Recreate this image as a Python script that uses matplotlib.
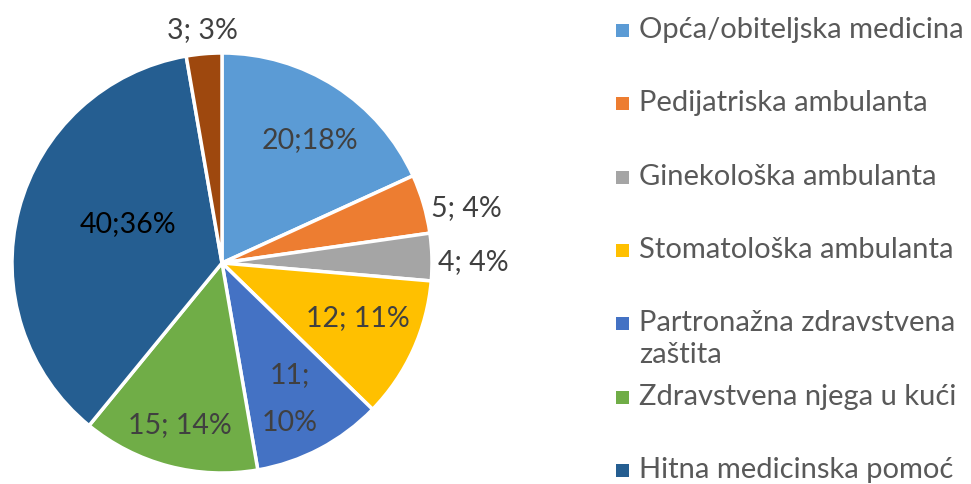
import matplotlib
matplotlib.use("Agg")
import matplotlib.pyplot as plt
from matplotlib.patches import Rectangle

categories = ["Opća/obiteljska medicina", "Pedijatriska ambulanta", "Ginekološka ambulanta",
              "Stomatološka ambulanta", "Partronažna zdravstvena\nzaštita",
              "Zdravstvena njega u kući", "Hitna medicinska pomoć", "Ostalo"]
values = [20, 5, 4, 12, 11, 15, 40, 3]
value_labels = ["20;18%", "5; 4%", "4; 4%", "12; 11%", "11;\n10%", "15; 14%", "40;36%", "3; 3%"]

colors = ["#5B9BD5", "#ED7D31", "#A5A5A5", "#FFC000", "#4472C4", "#70AD47", "#255E91", "#9E480E"]

W, H = 971, 484
cx, cy, r = 222, 263, 210
# label centres in pixels
label_px = [(310, 140), (466, 208), (473, 262), (358, 318), (290, 399),
            (180, 425), (128, 224), (202, 30)]
label_col = ["#404040"] * 6 + ["black", "#404040"]

plt.rcParams['font.family'] = ['Lato', 'DejaVu Sans']

fig = plt.figure(figsize=(W / 100, H / 100), dpi=100)
ax = fig.add_axes([(cx - r) / W, (H - cy - r) / H, 2 * r / W, 2 * r / H])
ax.pie(values, colors=colors, startangle=90, counterclock=False,
       wedgeprops=dict(edgecolor="white", linewidth=2.5))
ax.set_xlim(-1, 1)
ax.set_ylim(-1, 1)
ax.set_aspect("equal")
ax.axis("off")

for txt, (px, py), c in zip(value_labels, label_px, label_col):
    ax.text((px - cx) / r, (cy - py) / r, txt, ha="center", va="center",
            fontsize=20.5, color=c, clip_on=False, linespacing=2.05)

# legend drawn by hand (Excel style fixed slots)
slot_y = [30, 103, 177, 250, 339, 397, 470]
for lab, col, y in zip(categories[:7], colors[:7], slot_y):
    my = y - 16 if "\n" in lab else y
    fig.patches.append(Rectangle((616 / W, (H - my - 6.5) / H), 13 / W, 13 / H,
                                 transform=fig.transFigure, facecolor=col, edgecolor="none"))
    fig.text(639 / W, (H - y) / H, lab, ha="left", va="center",
             fontsize=21, color="#595959", linespacing=1.27)

fig.savefig("out.png", dpi=100)
